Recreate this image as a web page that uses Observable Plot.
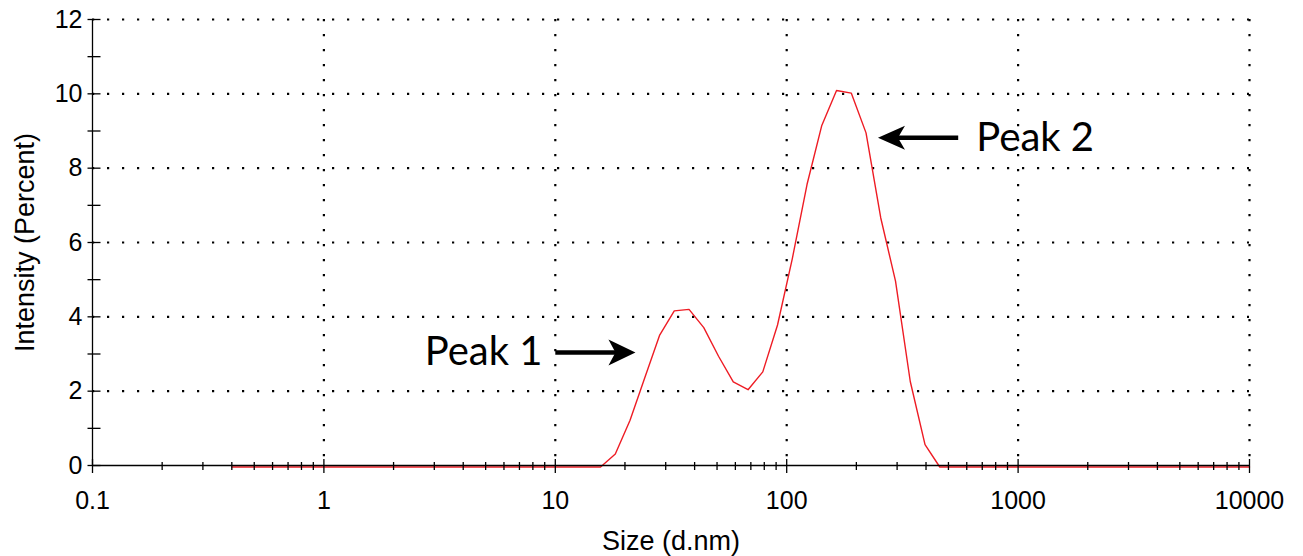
<!DOCTYPE html>
<html>
<head>
<meta charset="utf-8">
<script src="https://cdn.jsdelivr.net/npm/d3@7"></script>
<script src="https://cdn.jsdelivr.net/npm/@observablehq/plot@0.6"></script>
<style>
  html, body { margin: 0; padding: 0; background: #fff; }
  #chart svg { display: block; }
</style>
</head>
<body>
<div id="chart"></div>
<script>
// Size bins (d.nm)
const sizes = [0.4, 0.4632, 0.5365, 0.6213, 0.7195, 0.8332, 0.9649, 1.117, 1.294, 1.499,
  1.736, 2.01, 2.328, 2.696, 3.122, 3.615, 4.187, 4.849, 5.615, 6.503, 7.531, 8.721,
  10.1, 11.7, 13.54, 15.69, 18.17, 21.04, 24.36, 28.21, 32.67, 37.84, 43.82, 50.75,
  58.77, 68.06, 78.82, 91.28, 105.7, 122.4, 141.8, 164.2, 190.1, 220.2, 255, 295.3,
  342, 396.1, 458.7, 531.2, 615.1, 712.4, 825, 955.4, 1106, 1281, 1484, 1718, 1990,
  2305, 2669, 3091, 3580, 4145, 4801, 5560, 6439, 7456, 8635, 10000];
// Intensity (Percent)
const intensity = [0, 0, 0, 0, 0, 0, 0, 0, 0, 0,
  0, 0, 0, 0, 0, 0, 0, 0, 0, 0, 0, 0,
  0, 0, 0, 0, 0.35, 1.26, 2.4, 3.54, 4.2, 4.24, 3.75, 2.98,
  2.29, 2.08, 2.56, 3.82, 5.6, 7.6, 9.19, 10.13, 10.06, 8.99, 6.7, 5.0,
  2.3, 0.6, 0, 0, 0, 0, 0, 0, 0, 0, 0, 0, 0,
  0, 0, 0, 0, 0, 0, 0, 0, 0, 0, 0];

const xMajorTicks = [0.1, 1, 10, 100, 1000, 10000];
const xTickLabels = ["0.1", "1", "10", "100", "1000", "10000"];
const xMinorTicks = [0.2, 0.3, 0.4, 0.5, 0.6, 0.7, 0.8, 0.9,
  2, 3, 4, 5, 6, 7, 8, 9,
  20, 30, 40, 50, 60, 70, 80, 90,
  200, 300, 400, 500, 600, 700, 800, 900,
  2000, 3000, 4000, 5000, 6000, 7000, 8000, 9000];
const xGrid = [1, 10, 100, 1000, 10000];
const yTicks = [0, 1, 2, 3, 4, 5, 6, 7, 8, 9, 10, 11, 12];
const yLabelTicks = [0, 2, 4, 6, 8, 10, 12];
const yGrid = [2, 4, 6, 8, 10, 12];

// Annotations
const annotLabels = ["Peak 1", "Peak 2"];
const annotTextX = [4.9, 1185];
const annotTextY = [3.04, 8.82];
const arrowFromX = [10.0, 551];
const arrowToX = [22.2, 248];
const arrowY = [3.04, 8.82];

const data = sizes.map((s, i) => ({size: s, value: intensity[i]}));
const idx = annotLabels.map((_, i) => i);

// custom symbols (drawn in pixels)
const vTickMajor = {draw(ctx) { ctx.moveTo(0, -6.5); ctx.lineTo(0, 7.5); }};
const vTickMinor = {draw(ctx) { ctx.moveTo(0, -3.5); ctx.lineTo(0, 4.5); }};
const hTick = {draw(ctx) { ctx.moveTo(-5, 0); ctx.lineTo(8, 0); }};
const headRight = {draw(ctx) { ctx.moveTo(0, 0); ctx.lineTo(-27, -13); ctx.lineTo(-20, 0); ctx.lineTo(-27, 13); ctx.closePath(); }};
const headLeft = {draw(ctx) { ctx.moveTo(0, 0); ctx.lineTo(27, -12); ctx.lineTo(20, 0); ctx.lineTo(27, 12); ctx.closePath(); }};

const axisFont = "'Liberation Sans', Arial, Helvetica, sans-serif";

const chart = Plot.plot({
  width: 1303,
  height: 556,
  marginLeft: 92,
  marginRight: 54,
  marginTop: 19,
  marginBottom: 91,
  x: {type: "log", domain: [0.1, 10000], axis: null},
  y: {domain: [0, 12], axis: null},
  style: {fontFamily: axisFont, fontSize: "25px", color: "black", background: "white", overflow: "visible"},
  marks: [
    // dotted grid
    Plot.ruleY(yGrid, {stroke: "black", strokeWidth: 2.2, strokeDasharray: "2.2 12.8"}),
    Plot.ruleX(xGrid, {stroke: "black", strokeWidth: 2.2, strokeDasharray: "2.2 12.8"}),
    // red distribution
    Plot.line(data, {x: "size", y: "value", stroke: "#ee1c24", strokeWidth: 1.4, dy: 1.5}),
    // axis lines
    Plot.ruleY([0], {stroke: "black", strokeWidth: 1.3}),
    Plot.ruleX([0.1], {stroke: "black", strokeWidth: 1.3}),
    // ticks
    Plot.dot(xMajorTicks, {x: d => d, y: 0, symbol: vTickMajor, stroke: "black", fill: "none", strokeWidth: 1.3}),
    Plot.dot(xMinorTicks, {x: d => d, y: 0, symbol: vTickMinor, stroke: "black", fill: "none", strokeWidth: 1.3}),
    Plot.dot(yTicks, {x: 0.1, y: d => d, symbol: hTick, stroke: "black", fill: "none", strokeWidth: 1.3}),
    // tick labels
    Plot.text(xMajorTicks, {x: d => d, y: 0, text: (d, i) => xTickLabels[i], dy: 35, fill: "black", fontSize: 25}),
    Plot.text(yLabelTicks, {x: 0.1, y: d => d, text: d => String(d), dx: -10, textAnchor: "end", fill: "black", fontSize: 25}),
    // axis titles
    Plot.text(["Size (d.nm)"], {frameAnchor: "bottom", textAnchor: "middle", lineAnchor: "middle", dy: 76, fill: "black", fontSize: 27}),
    Plot.text(["Intensity (Percent)"], {frameAnchor: "left", textAnchor: "middle", lineAnchor: "middle", dx: -67, rotate: -90, fill: "black", fontSize: 27}),
    // annotations
    Plot.arrow(idx, {x1: i => arrowFromX[i], x2: i => arrowToX[i], y1: i => arrowY[i], y2: i => arrowY[i],
      headLength: 0, insetEnd: 18, stroke: "black", strokeWidth: 4.5, strokeLinecap: "butt"}),
    Plot.dot([0], {x: i => arrowToX[i], y: i => arrowY[i], symbol: headRight, fill: "black", stroke: "none"}),
    Plot.dot([1], {x: i => arrowToX[i], y: i => arrowY[i], symbol: headLeft, fill: "black", stroke: "none"}),
    Plot.text(idx, {x: i => annotTextX[i], y: i => annotTextY[i], text: i => annotLabels[i],
      fontFamily: "Lato, 'Open Sans', sans-serif", fontSize: 40, fill: "black"})
  ]
});
document.getElementById("chart").appendChild(chart);
</script>
</body>
</html>
